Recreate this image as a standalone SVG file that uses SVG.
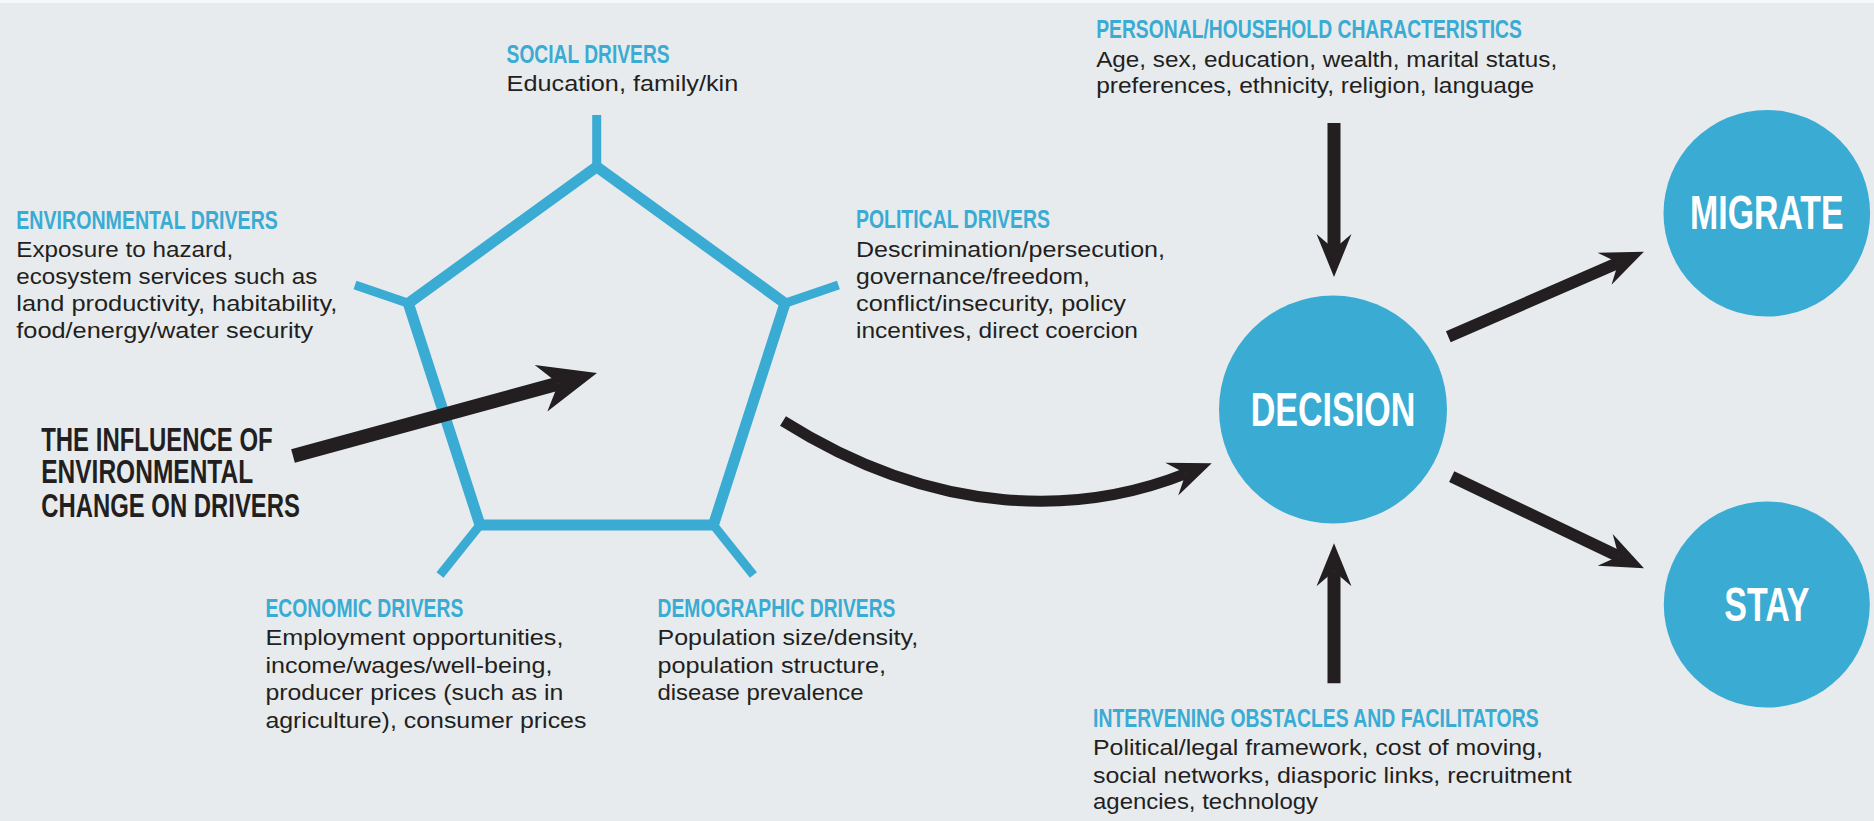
<svg xmlns="http://www.w3.org/2000/svg" width="1874" height="821" viewBox="0 0 1874 821">
  <style>
    .bg { fill: #e7ebee; }
    .title { font-family: "Liberation Sans Narrow", "Liberation Sans", Arial, sans-serif; font-weight: bold; font-size: 25px; fill: #3aabd3; }
    .body { font-family: "Liberation Sans", Arial, sans-serif; font-size: 22px; fill: #231f20; }
    .big { font-family: "Liberation Sans Narrow", "Liberation Sans", Arial, sans-serif; font-weight: bold; font-size: 34px; fill: #231f20; }
    .circ { fill: #3aabd3; }
    .ctext { font-family: "Liberation Sans Narrow", "Liberation Sans", Arial, sans-serif; font-weight: bold; font-size: 42px; fill: #ffffff; text-anchor: middle; }
    .pent { fill: none; stroke: #3aabd3; stroke-width: 11; stroke-linejoin: miter; }
    .tick { stroke: #3aabd3; stroke-width: 9; fill: none; }
    .arrow { fill: none; stroke: #231f20; stroke-width: 13; stroke-linecap: butt; }
  </style>
  <defs>
    <marker id="headBig" markerUnits="userSpaceOnUse" orient="auto" markerWidth="80" markerHeight="60" viewBox="-20 -30 80 60" refX="0" refY="0" overflow="visible">
      <path d="M40,0 L-18,-24 L0,0 L-18,24 Z" fill="#231f20"/>
    </marker>
    <marker id="head" markerUnits="userSpaceOnUse" orient="auto" markerWidth="60" markerHeight="40" viewBox="-20 -20 60 40" refX="0" refY="0" overflow="visible">
      <path d="M28,0 L-15,-17.5 L0,0 L-15,17.5 Z" fill="#231f20"/>
    </marker>
  </defs>

  <rect class="bg" x="0" y="0" width="1874" height="821"/>
  <rect x="0" y="0" width="1874" height="3" fill="#f5f7f8"/>

  <g id="drivers-pentagon">
    <polygon class="pent" points="596.7,166.7 785,303.3 713.4,525 480,525 408.3,303.3"/>
    <line class="tick" x1="596.7" y1="166.7" x2="596.7" y2="115"/>
    <line class="tick" x1="408.3" y1="303.3" x2="355" y2="285"/>
    <line class="tick" x1="785" y1="303.3" x2="838.4" y2="285"/>
    <line class="tick" x1="480" y1="525" x2="440" y2="575"/>
    <line class="tick" x1="713.4" y1="525" x2="753.4" y2="575"/>
  </g>

  <g id="social-drivers">
    <text class="title" x="506.6" y="62.7" textLength="163" lengthAdjust="spacingAndGlyphs">SOCIAL DRIVERS</text>
    <text class="body" x="506.6" y="90.5" textLength="231.6" lengthAdjust="spacingAndGlyphs">Education, family/kin</text>
  </g>

  <g id="environmental-drivers">
    <text class="title" x="16.3" y="229.3" textLength="261.6" lengthAdjust="spacingAndGlyphs">ENVIRONMENTAL DRIVERS</text>
    <text class="body" x="16.3" y="257" textLength="217" lengthAdjust="spacingAndGlyphs">Exposure to hazard,</text>
    <text class="body" x="16.3" y="284" textLength="301" lengthAdjust="spacingAndGlyphs">ecosystem services such as</text>
    <text class="body" x="16.3" y="311" textLength="321" lengthAdjust="spacingAndGlyphs">land productivity, habitability,</text>
    <text class="body" x="16.3" y="338" textLength="297" lengthAdjust="spacingAndGlyphs">food/energy/water security</text>
  </g>

  <g id="political-drivers">
    <text class="title" x="856" y="227.7" textLength="194" lengthAdjust="spacingAndGlyphs">POLITICAL DRIVERS</text>
    <text class="body" x="856" y="257" textLength="309" lengthAdjust="spacingAndGlyphs">Descrimination/persecution,</text>
    <text class="body" x="856" y="284" textLength="234" lengthAdjust="spacingAndGlyphs">governance/freedom,</text>
    <text class="body" x="856" y="311" textLength="270" lengthAdjust="spacingAndGlyphs">conflict/insecurity, policy</text>
    <text class="body" x="856" y="338" textLength="282" lengthAdjust="spacingAndGlyphs">incentives, direct coercion</text>
  </g>

  <g id="economic-drivers">
    <text class="title" x="265.4" y="616.7" textLength="198" lengthAdjust="spacingAndGlyphs">ECONOMIC DRIVERS</text>
    <text class="body" x="265.4" y="645" textLength="298" lengthAdjust="spacingAndGlyphs">Employment opportunities,</text>
    <text class="body" x="265.4" y="672.5" textLength="287" lengthAdjust="spacingAndGlyphs">income/wages/well-being,</text>
    <text class="body" x="265.4" y="700" textLength="298" lengthAdjust="spacingAndGlyphs">producer prices (such as in</text>
    <text class="body" x="265.4" y="727.5" textLength="321" lengthAdjust="spacingAndGlyphs">agriculture), consumer prices</text>
  </g>

  <g id="demographic-drivers">
    <text class="title" x="657.5" y="616.7" textLength="238" lengthAdjust="spacingAndGlyphs">DEMOGRAPHIC DRIVERS</text>
    <text class="body" x="657.5" y="645" textLength="260.6" lengthAdjust="spacingAndGlyphs">Population size/density,</text>
    <text class="body" x="657.5" y="672.5" textLength="228.5" lengthAdjust="spacingAndGlyphs">population structure,</text>
    <text class="body" x="657.5" y="700" textLength="206" lengthAdjust="spacingAndGlyphs">disease prevalence</text>
  </g>

  <g id="environmental-change">
    <text class="big" x="41.2" y="450.7"><tspan x="41.2" y="450.7" textLength="231.5" lengthAdjust="spacingAndGlyphs">THE INFLUENCE OF</tspan><tspan x="41.2" y="483.3" textLength="212" lengthAdjust="spacingAndGlyphs">ENVIRONMENTAL</tspan><tspan x="41.2" y="516.7" textLength="258.8" lengthAdjust="spacingAndGlyphs">CHANGE ON DRIVERS</tspan></text>
  </g>

  <g id="personal-household">
    <text class="title" x="1096.2" y="38.3" textLength="425.7" lengthAdjust="spacingAndGlyphs">PERSONAL/HOUSEHOLD CHARACTERISTICS</text>
    <text class="body" x="1096.2" y="66.7" textLength="461" lengthAdjust="spacingAndGlyphs">Age, sex, education, wealth, marital status,</text>
    <text class="body" x="1096.2" y="93" textLength="438" lengthAdjust="spacingAndGlyphs">preferences, ethnicity, religion, language</text>
  </g>

  <g id="intervening-obstacles">
    <text class="title" x="1093" y="726.7" textLength="445.6" lengthAdjust="spacingAndGlyphs">INTERVENING OBSTACLES AND FACILITATORS</text>
    <text class="body" x="1093" y="755" textLength="449.8" lengthAdjust="spacingAndGlyphs">Political/legal framework, cost of moving,</text>
    <text class="body" x="1093" y="782.7" textLength="478.7" lengthAdjust="spacingAndGlyphs">social networks, diasporic links, recruitment</text>
    <text class="body" x="1093" y="809.3" textLength="225" lengthAdjust="spacingAndGlyphs">agencies, technology</text>
  </g>

  <g id="decision">
    <circle class="circ" cx="1333" cy="409.5" r="114"/>
    <text class="ctext" transform="translate(1333,426) scale(1,1.15)" x="0" y="0" textLength="164.5" lengthAdjust="spacingAndGlyphs">DECISION</text>
  </g>

  <g id="migrate">
    <circle class="circ" cx="1766.8" cy="213.3" r="103.3"/>
    <text class="ctext" transform="translate(1766.8,229.3) scale(1,1.13)" x="0" y="0" textLength="153.5" lengthAdjust="spacingAndGlyphs">MIGRATE</text>
  </g>

  <g id="stay">
    <circle class="circ" cx="1766.8" cy="604.5" r="103"/>
    <text class="ctext" transform="translate(1766.8,620.7) scale(1,1.13)" x="0" y="0" textLength="85" lengthAdjust="spacingAndGlyphs">STAY</text>
  </g>

  <g id="connectors">
    <path class="arrow" style="stroke-width:14" d="M293,456 L558.4,383.5" marker-end="url(#headBig)"/>
    <path class="arrow" style="stroke-width:11" d="M783,421 C940,520 1083.5,514.2 1185.7,473.6" marker-end="url(#head)"/>
    <path class="arrow" d="M1334,123 L1334,249" marker-end="url(#head)"/>
    <path class="arrow" d="M1334,683.3 L1334,571.3" marker-end="url(#head)"/>
    <path class="arrow" style="stroke-width:12" d="M1448.3,336.7 L1618.3,262.8" marker-end="url(#head)"/>
    <path class="arrow" style="stroke-width:12" d="M1451.7,476.7 L1618.7,556.3" marker-end="url(#head)"/>
  </g>
</svg>
